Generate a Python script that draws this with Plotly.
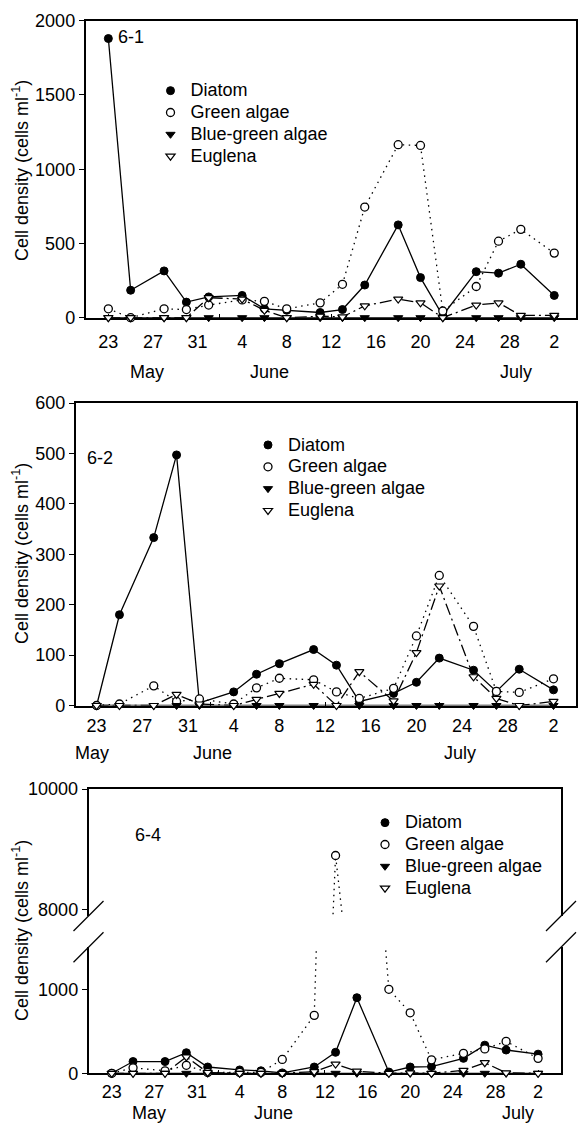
import numpy as np
import pandas as pd
import plotly.graph_objects as go

# ---------------- data ----------------
sample_dates = ["2012-05-23", "2012-05-25", "2012-05-28", "2012-05-30", "2012-06-01",
                "2012-06-04", "2012-06-06", "2012-06-08", "2012-06-11", "2012-06-13",
                "2012-06-15", "2012-06-18", "2012-06-20", "2012-06-22", "2012-06-25",
                "2012-06-27", "2012-06-29", "2012-07-02"]
tick_dates = ["2012-05-23", "2012-05-27", "2012-05-31", "2012-06-04", "2012-06-08",
              "2012-06-12", "2012-06-16", "2012-06-20", "2012-06-24", "2012-06-28",
              "2012-07-02"]
tick_labels = ["23", "27", "31", "4", "8", "12", "16", "20", "24", "28", "2"]
month_labels = ["May", "June", "July"]
series_names = ["Diatom", "Green algae", "Blue-green algae", "Euglena"]

# site 6-1
s61_diatom = [1880, 185, 315, 105, 140, 150, 60, 50, 35, 55, 220, 625, 270, 15, 310, 300, 360, 150]
s61_green = [60, 0, 60, 55, 85, 120, 110, 60, 100, 225, 745, 1165, 1160, 45, 210, 515, 595, 435]
s61_bluegreen = [0, 0, 0, 0, 0, 0, 0, 0, 0, 0, 0, 0, 0, 0, 0, 0, 0, 0]
s61_euglena = [0, 0, 0, 0, 135, 125, 50, 0, 10, 5, 80, 125, 100, 0, 85, 100, 15, 15]

# site 6-2
s62_diatom = [0, 180, 333, 497, 5, 27, 62, 83, 111, 80, 8, 24, 46, 94, 70, 28, 72, 31]
s62_green = [0, 3, 39, 8, 13, 3, 35, 54, 51, 27, 14, 34, 138, 258, 157, 28, 26, 53]
s62_bluegreen = [0, 0, 0, 0, 0, 0, 0, 0, 0, 0, 0, 0, 0, 0, 0, 0, 0, 0]
s62_euglena = [0, 0, 0, 22, 3, 0, 12, 24, 42, 0, 67, 9, 105, 237, 57, 14, 0, 8]

# site 6-4
s64_diatom = [0, 140, 140, 245, 75, 40, 30, 5, 75, 250, 900, 15, 75, 80, 178, 335, 277, 228]
s64_green = [0, 65, 30, 95, 10, 10, 10, 165, 690, 8900, None, 1000, 720, 160, 238, 290, 380, 178]
s64_bluegreen = [0, 0, 0, 0, 0, 0, 0, 0, 0, 0, 0, 0, 0, 0, 0, 0, 0, 0]
s64_euglena = [0, 0, 0, 195, 10, 0, 0, 0, 20, 110, 25, 0, 5, 0, 35, 126, 5, 0]

# ---------------- layout helpers ----------------
W, H = 578, 1125
FONT = "Liberation Sans, Arial, Helvetica, sans-serif"
FS = 18


def px(x):
    return x / W


def py(y):
    return 1 - y / H


base = pd.Timestamp(sample_dates[0])


def drange(d0, d1):
    return [(base + pd.Timedelta(days=d0)).isoformat(), (base + pd.Timedelta(days=d1)).isoformat()]


styles = {
    "Diatom": dict(marker=dict(symbol="circle", size=8, color="black",
                               line=dict(color="black", width=1)),
                   line=dict(color="black", width=1.3, dash="solid")),
    "Green algae": dict(marker=dict(symbol="circle", size=8, color="white",
                                    line=dict(color="black", width=1.3)),
                        line=dict(color="black", width=1.3, dash="1.5px,4.5px")),
    "Blue-green algae": dict(marker=dict(symbol="triangle-down", size=8, color="black",
                                         line=dict(color="black", width=1)),
                             line=dict(color="black", width=1.3, dash="solid")),
    "Euglena": dict(marker=dict(symbol="triangle-down", size=8, color="white",
                                line=dict(color="black", width=1.2)),
                    line=dict(color="black", width=1.3, dash="12px,4px,2px,4px")),
}

fig = go.Figure()

panels = [
    ("x", "y", "legend", [s61_diatom, s61_green, s61_bluegreen, s61_euglena]),
    ("x2", "y2", "legend2", [s62_diatom, s62_green, s62_bluegreen, s62_euglena]),
]


def legend_name(name):
    return '<span style="font-size:%dpx">%s</span>' % (FS, name)


for xa, ya, lg, vals in panels:
    for name, v in zip(series_names, vals):
        st = styles[name]
        fig.add_trace(go.Scatter(x=sample_dates, y=v, mode="lines+markers", name=name,
                                 marker=st["marker"], line=st["line"], cliponaxis=False,
                                 connectgaps=True, showlegend=False, xaxis=xa, yaxis=ya))
    for name in series_names:
        st = styles[name]
        fig.add_trace(go.Scatter(x=[None], y=[None], mode="markers", name=legend_name(name),
                                 marker=st["marker"], showlegend=True, legend=lg,
                                 xaxis=xa, yaxis=ya))

# panel 6-4 with broken axis
LOW_MAX, UP_MIN, UP_MAX = 1500, 7900, 10000
vals64 = [s64_diatom, s64_green, s64_bluegreen, s64_euglena]
for name, v in zip(series_names, vals64):
    st = styles[name]
    fig.add_trace(go.Scatter(x=sample_dates, y=v, mode="lines", name=name, line=st["line"],
                             connectgaps=True, showlegend=False, xaxis="x3", yaxis="y3"))
for name, v in zip(series_names, vals64):
    st = styles[name]
    s = pd.Series(v, dtype="float")
    low = s.where(s <= LOW_MAX)
    fig.add_trace(go.Scatter(x=sample_dates, y=[None if pd.isna(a) else a for a in low],
                             mode="markers", name=name, marker=st["marker"], cliponaxis=False,
                             showlegend=False, xaxis="x3", yaxis="y3"))
for name, v in zip(series_names, vals64):
    st = styles[name]
    fig.add_trace(go.Scatter(x=sample_dates, y=v, mode="lines+markers", name=name,
                             marker=st["marker"], line=st["line"], cliponaxis=True,
                             connectgaps=True, showlegend=False, xaxis="x4", yaxis="y4"))
for name in series_names:
    st = styles[name]
    fig.add_trace(go.Scatter(x=[None], y=[None], mode="markers", name=legend_name(name),
                             marker=st["marker"], showlegend=True, legend="legend3",
                             xaxis="x3", yaxis="y3"))

axis_common = dict(showline=True, linecolor="black", linewidth=1.5, showgrid=False,
                   zeroline=False, layer="below traces", automargin=False,
                   tickfont=dict(family=FONT, size=FS, color="black"))

x_common = dict(axis_common, type="date", tickmode="array", tickvals=tick_dates,
                ticktext=tick_labels, ticks="",
                minor=dict(ticks="inside", ticklen=4, tickwidth=1.2, tickcolor="black",
                           tick0=sample_dates[0], dtick=10 * 86400000))
y_common = dict(axis_common, ticks="outside", ticklen=5, tickwidth=1.2, tickcolor="black",
                tickformat="d", mirror=True)

fig.update_layout(
    width=W, height=H,
    margin=dict(l=0, r=0, t=0, b=0, autoexpand=False),
    paper_bgcolor="white", plot_bgcolor="white",
    font=dict(family=FONT, size=FS, color="black"),
    xaxis=dict(x_common, domain=[px(85.5), px(576)], anchor="y", range=drange(-2.05, 41.95),
               mirror=True, ticklabelstandoff=7),
    yaxis=dict(y_common, domain=[py(317.7), py(20.7)], anchor="x", range=[0, 2000], dtick=500),
    xaxis2=dict(x_common, domain=[px(75.6), px(576)], anchor="y2", range=drange(-1.84, 41.97),
                mirror=True, ticklabelstandoff=3),
    yaxis2=dict(y_common, domain=[py(705.5), py(403)], anchor="x2", range=[0, 600], dtick=100),
    xaxis3=dict(x_common, domain=[px(88.5), px(561)], anchor="y3", range=drange(-2.18, 42.15),
                ticklabelstandoff=1),
    yaxis3=dict(y_common, domain=[py(1073.3), py(947.3)], anchor="x3", range=[0, LOW_MAX],
                tickmode="array", tickvals=[0, 1000]),
    xaxis4=dict(axis_common, type="date", domain=[px(88.5), px(561)], anchor="y4",
                side="top", range=drange(-2.18, 42.15), showticklabels=False, ticks=""),
    yaxis4=dict(y_common, domain=[py(916), py(789)], anchor="x4", range=[UP_MIN, UP_MAX],
                tickmode="array", tickvals=[8000, 10000]),
)

leg_common = dict(xanchor="left", yanchor="top", bgcolor="rgba(0,0,0,0)", borderwidth=0,
                  font=dict(family=FONT, size=14.5, color="black"), itemwidth=30,
                  tracegroupgap=0)
fig.update_layout(
    legend=dict(leg_common, x=px(150.5), y=py(74.7)),
    legend2=dict(leg_common, x=px(248), y=py(429)),
    legend3=dict(leg_common, x=px(365), y=py(806.7)),
)

txt_font = dict(family=FONT, size=FS, color="black")
annotations = []
# panel labels
for txt, x, y in [("6-1", 131, 37), ("6-2", 99.5, 458.3), ("6-4", 147.5, 835)]:
    annotations.append(dict(text=txt, x=px(x), y=py(y), xref="paper", yref="paper",
                            xanchor="center", yanchor="middle", showarrow=False, font=txt_font))
# month labels
for y, xs in [(371.7, [147, 269, 516]), (753, [92, 212, 460]), (1113, [149, 273, 518])]:
    for m, x in zip(month_labels, xs):
        annotations.append(dict(text=m, x=px(x), y=py(y), xref="paper", yref="paper",
                                xanchor="center", yanchor="middle", showarrow=False,
                                font=txt_font))
# y titles
for y in [171, 554, 931]:
    annotations.append(dict(text="Cell density (cells ml<sup>-1</sup>)", x=px(20), y=py(y),
                            xref="paper", yref="paper", textangle=-90, showarrow=False,
                            xanchor="center", yanchor="middle", font=txt_font))
fig.update_layout(annotations=annotations)

# axis break marks
shapes = []
for cx in [88.5, 561]:
    for cy in [916, 947.3]:
        shapes.append(dict(type="line", xref="paper", yref="paper",
                           x0=px(cx - 15), y0=py(cy + 15), x1=px(cx + 15), y1=py(cy - 15),
                           line=dict(color="black", width=1.3)))
fig.update_layout(shapes=shapes)

fig.write_html("out.html", post_script="document.body.style.margin='0';")
